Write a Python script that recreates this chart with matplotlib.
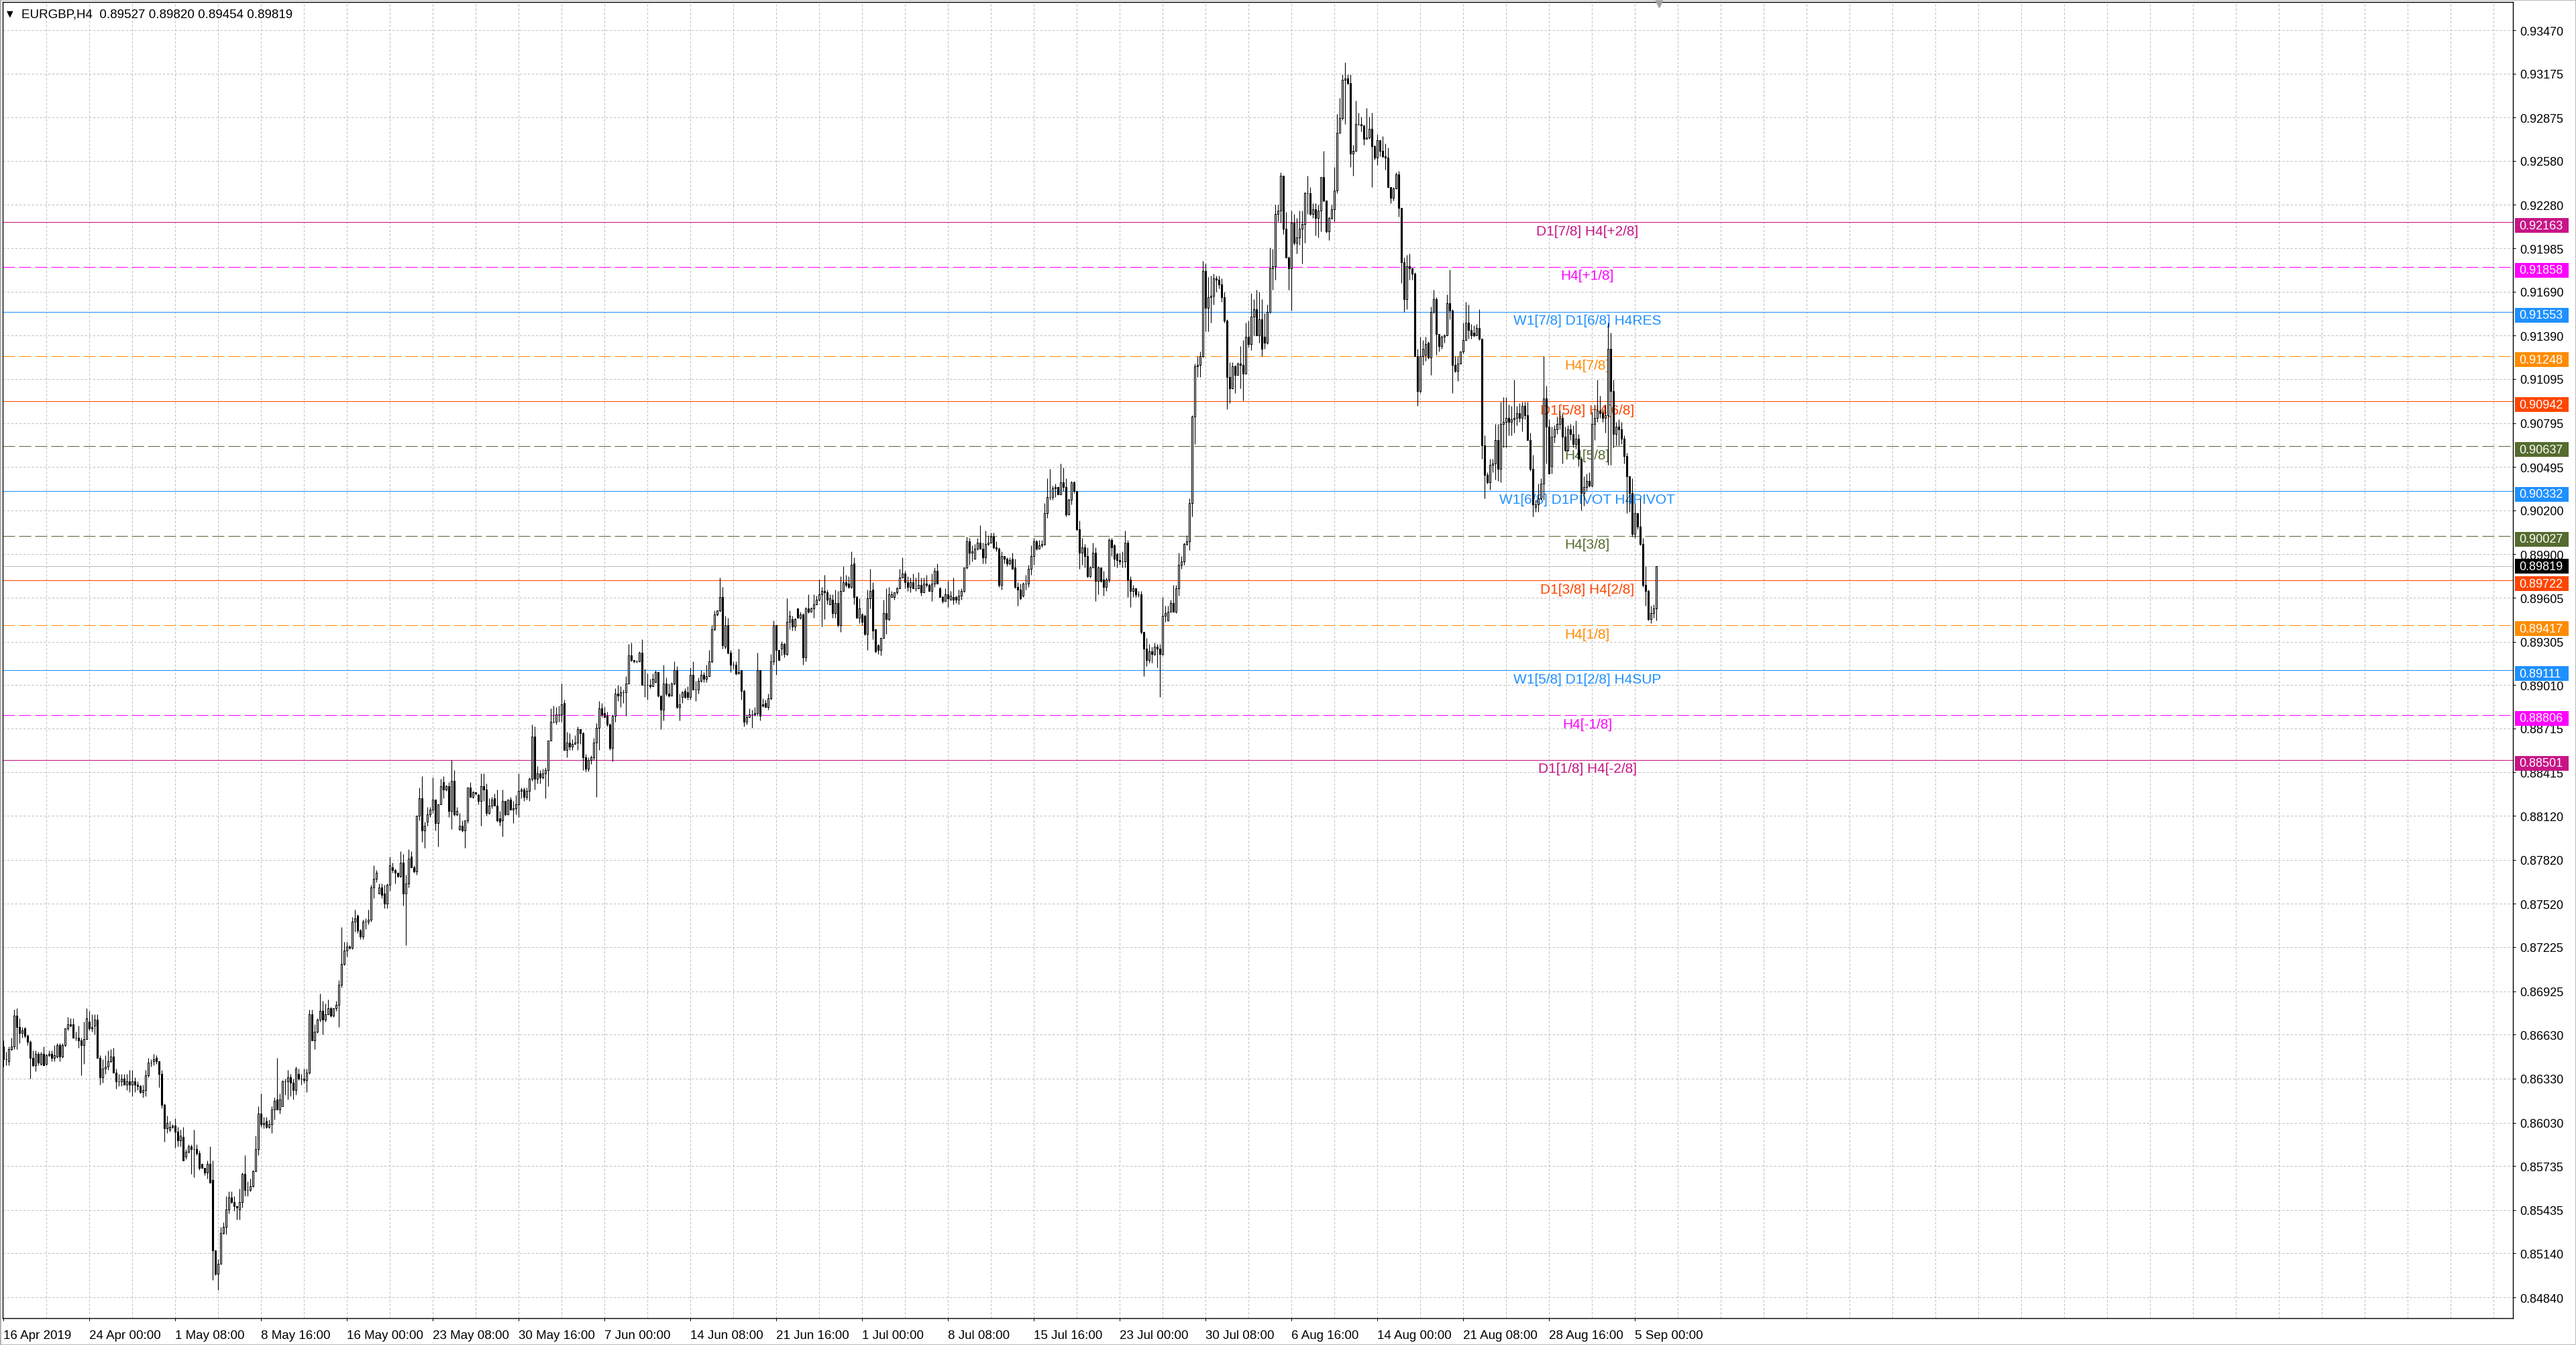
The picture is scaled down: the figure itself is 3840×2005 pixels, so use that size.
import numpy as np
import matplotlib
matplotlib.use("Agg")
import matplotlib.pyplot as plt
from matplotlib.collections import LineCollection, PolyCollection
from matplotlib.patches import Rectangle
from matplotlib.transforms import blended_transform_factory

plt.rcParams['font.family'] = ['Liberation Sans', 'DejaVu Sans']
plt.rcParams['lines.scale_dashes'] = False

# ---------------- data (EURGBP H4, prices in 1e-4 units) ----------------
opens = [
8655,8646,8645,8653,8655,8676,8668,8664,8667,8662, 8658,8647,8642,8650,8643,8650,8643,8649,8650,8647,
8648,8656,8648,8656,8667,8670,8670,8661,8661,8659, 8656,8660,8672,8667,8669,8673,8647,8634,8640,8641,
8645,8648,8637,8631,8631,8633,8629,8631,8629,8631, 8629,8628,8624,8625,8635,8644,8645,8647,8645,8636,
8615,8599,8598,8600,8601,8597,8591,8593,8580,8583, 8587,8585,8585,8582,8575,8572,8569,8575,8564,8516,
8500,8507,8528,8532,8544,8552,8549,8546,8544,8549, 8568,8557,8557,8560,8570,8585,8609,8602,8604,8600,
8602,8612,8619,8612,8614,8631,8631,8634,8630,8625, 8636,8633,8633,8632,8637,8677,8659,8665,8673,8679,
8673,8677,8681,8676,8681,8683,8697,8711,8720,8723, 8722,8740,8744,8734,8730,8740,8740,8741,8763,8769,
8759,8763,8759,8752,8765,8777,8775,8773,8771,8780, 8759,8766,8784,8777,8774,8812,8824,8802,8808,8813,
8816,8823,8807,8820,8835,8830,8832,8815,8836,8813, 8803,8805,8802,8809,8831,8825,8828,8826,8822,8832,
8830,8814,8819,8824,8819,8810,8809,8822,8813,8823, 8816,8817,8820,8829,8830,8825,8829,8837,8866,8837,
8841,8838,8841,8843,8863,8876,8876,8881,8881,8889, 8857,8862,8859,8861,8862,8871,8868,8852,8844,8850,
8852,8862,8872,8885,8882,8880,8874,8858,8880,8895, 8894,8896,8896,8902,8921,8918,8917,8917,8923,8901,
8901,8901,8900,8903,8910,8894,8884,8902,8895,8894, 8902,8911,8886,8893,8897,8896,8893,8908,8898,8898,
8904,8908,8905,8907,8917,8939,8949,8952,8961,8927, 8942,8923,8915,8915,8909,8911,8897,8876,8879,8881,
8881,8882,8911,8888,8889,8886,8892,8917,8942,8925, 8926,8929,8922,8944,8946,8941,8953,8947,8949,8920,
8953,8951,8953,8956,8959,8963,8965,8964,8956,8959, 8950,8957,8942,8965,8971,8970,8968,8984,8961,8947,
8949,8948,8936,8960,8966,8939,8928,8925,8933,8950, 8946,8961,8961,8964,8967,8974,8977,8971,8968,8971,
8967,8967,8969,8964,8970,8969,8965,8970,8979,8967, 8961,8958,8963,8959,8961,8961,8959,8962,8965,8981,
8999,8991,8987,8994,8998,8994,8988,8997,8998,9002, 8995,8994,8969,8989,8987,8984,8987,8981,8968,8966,
8962,8970,8970,8980,8989,8999,8994,8996,8997,9018, 9029,9029,9035,9036,9031,9039,9036,9017,9027,9039,
9033,9007,8991,8995,8989,8975,8981,8991,8972,8981, 8973,8968,8973,9000,8996,8990,8986,8985,8985,8998,
8973,8965,8967,8963,8963,8937,8926,8918,8924,8922, 8927,8926,8922,8948,8945,8951,8957,8951,8967,8983,
8985,8997,8999,9025,9084,9118,9119,9125,9183,9158, 9165,9166,9178,9177,9174,9165,9149,9111,9103,9118,
9112,9120,9119,9113,9138,9133,9152,9157,9139,9150, 9138,9134,9155,9185,9186,9222,9224,9248,9212,9192,
9185,9216,9202,9206,9212,9215,9236,9236,9222,9225, 9219,9224,9247,9231,9210,9219,9225,9238,9277,9287,
9313,9314,9311,9263,9265,9283,9283,9282,9273,9274, 9280,9268,9260,9272,9265,9261,9260,9240,9233,9239,
9249,9226,9189,9164,9186,9185,9181,9125,9101,9125, 9126,9134,9124,9155,9164,9140,9132,9138,9139,9161,
9156,9119,9115,9120,9128,9136,9148,9143,9141,9139, 9144,9137,9064,9044,9039,9051,9052,9068,9048,9079,
9080,9083,9080,9082,9083,9086,9083,9091,9085,9068, 9048,9022,9024,9028,9038,9096,9077,9050,9070,9075,
9079,9083,9070,9061,9075,9072,9065,9069,9055,9032, 9036,9040,9037,9079,9083,9088,9086,9083,9085,9130,
9101,9072,9077,9075,9069,9057,9043,9032,9004,9018, 9009,8997,8969,8965,8946,8950,8953,
]
highs = [
8659,8651,8655,8661,8680,8681,8674,8668,8668,8663, 8659,8652,8652,8651,8651,8655,8650,8652,8652,8656,
8657,8657,8657,8667,8675,8674,8674,8665,8669,8661, 8672,8681,8679,8677,8677,8677,8649,8646,8649,8652,
8653,8654,8640,8636,8636,8636,8636,8639,8639,8634, 8631,8629,8629,8639,8647,8646,8650,8649,8645,8639,
8616,8608,8604,8602,8606,8600,8598,8600,8585,8588, 8588,8598,8588,8584,8575,8572,8577,8587,8577,8516,
8510,8532,8535,8553,8556,8556,8553,8546,8558,8569, 8581,8563,8565,8571,8594,8614,8623,8607,8607,8605,
8614,8620,8647,8623,8632,8633,8639,8636,8633,8641, 8640,8636,8640,8640,8680,8680,8670,8674,8691,8686,
8684,8687,8682,8681,8686,8700,8736,8726,8726,8724, 8743,8748,8745,8735,8741,8742,8748,8765,8778,8775,
8766,8766,8765,8766,8784,8780,8776,8773,8788,8786, 8772,8789,8788,8778,8812,8831,8839,8808,8818,8818,
8838,8823,8820,8837,8839,8833,8835,8850,8843,8818, 8814,8809,8809,8831,8835,8829,8828,8827,8841,8841,
8834,8824,8825,8827,8830,8815,8830,8822,8823,8825, 8822,8826,8841,8831,8831,8831,8838,8874,8873,8846,
8843,8844,8845,8863,8885,8887,8886,8887,8902,8891, 8869,8868,8864,8867,8873,8871,8869,8854,8852,8853,
8865,8875,8890,8889,8886,8883,8875,8881,8899,8901, 8900,8898,8907,8929,8930,8918,8918,8924,8932,8912,
8909,8905,8909,8911,8910,8894,8915,8906,8902,8903, 8917,8914,8895,8897,8899,8900,8913,8917,8904,8906,
8911,8910,8915,8925,8942,8952,8952,8974,8968,8948, 8947,8925,8917,8917,8926,8911,8898,8881,8885,8884,
8886,8923,8911,8892,8891,8895,8922,8945,8942,8925, 8931,8930,8960,8952,8948,8947,8953,8951,8950,8954,
8963,8954,8963,8962,8973,8968,8976,8966,8963,8963, 8966,8965,8975,8982,8976,8975,8992,8988,8962,8960,
8950,8949,8966,8980,8971,8939,8929,8933,8959,8967, 8968,8965,8964,8968,8980,8988,8979,8975,8974,8977,
8974,8978,8974,8974,8976,8970,8977,8981,8984,8968, 8962,8967,8972,8965,8974,8962,8966,8967,8981,9002,
9001,8996,8997,9001,9010,8998,9006,9003,9005,9005, 8999,8995,8992,8989,8988,8988,8991,8987,8971,8970,
8971,8976,8983,8996,9001,9000,9000,9000,9025,9042, 9048,9037,9038,9036,9052,9049,9042,9028,9040,9040,
9033,9013,9001,8997,8995,8982,8998,8995,8982,8981, 8979,8974,9001,9001,8997,8991,8991,8992,9006,9000,
8975,8969,8967,8965,8965,8937,8933,8929,8927,8930, 8929,8929,8961,8955,8955,8959,8969,8969,8991,8989,
8998,9003,9028,9085,9120,9125,9128,9190,9188,9179, 9180,9181,9180,9180,9178,9169,9150,9121,9121,9119,
9121,9132,9136,9148,9149,9168,9164,9170,9169,9164, 9154,9160,9199,9198,9228,9228,9250,9248,9223,9193,
9224,9222,9219,9224,9224,9237,9248,9240,9229,9229, 9228,9247,9265,9231,9220,9228,9254,9290,9301,9317,
9325,9317,9317,9269,9299,9291,9288,9282,9294,9288, 9291,9269,9276,9272,9275,9270,9267,9240,9240,9250,
9251,9226,9192,9194,9195,9185,9182,9130,9138,9136, 9138,9135,9159,9170,9165,9140,9139,9140,9167,9184,
9157,9125,9125,9128,9148,9162,9160,9147,9146,9147, 9157,9137,9071,9046,9055,9055,9079,9079,9094,9097,
9097,9092,9091,9109,9091,9093,9094,9094,9094,9073, 9058,9027,9038,9042,9125,9105,9082,9077,9078,9084,
9088,9086,9077,9078,9079,9078,9081,9072,9056,9043, 9045,9046,9087,9092,9109,9098,9089,9092,9148,9141,
9109,9080,9082,9080,9071,9059,9043,9042,9025,9018, 9028,9001,8982,8966,8955,8956,8982,
]
lows = [
8641,8642,8642,8652,8653,8653,8657,8661,8661,8656, 8633,8641,8638,8642,8642,8642,8642,8648,8645,8645,
8647,8645,8647,8655,8666,8668,8661,8659,8654,8635, 8643,8660,8666,8665,8663,8647,8629,8630,8636,8639,
8644,8637,8626,8628,8628,8629,8625,8624,8621,8624, 8625,8623,8620,8621,8634,8641,8642,8643,8627,8613,
8590,8596,8597,8599,8586,8587,8587,8577,8578,8582, 8568,8566,8581,8571,8572,8567,8565,8562,8496,8499,
8489,8507,8527,8527,8541,8548,8543,8537,8537,8545, 8553,8553,8556,8559,8570,8581,8600,8599,8599,8599,
8596,8605,8612,8609,8614,8622,8619,8621,8619,8622, 8632,8629,8630,8624,8636,8659,8653,8664,8672,8663,
8672,8677,8675,8675,8679,8668,8695,8710,8716,8721, 8721,8733,8732,8728,8728,8735,8738,8740,8756,8767,
8759,8756,8749,8749,8761,8773,8766,8770,8770,8751, 8724,8763,8777,8773,8772,8809,8794,8790,8805,8811,
8814,8802,8791,8820,8824,8829,8811,8803,8812,8812, 8802,8801,8790,8807,8825,8824,8826,8820,8805,8822,
8812,8813,8817,8819,8808,8805,8798,8812,8813,8816, 8807,8813,8811,8824,8822,8823,8822,8836,8830,8834,
8834,8837,8824,8832,8863,8875,8874,8876,8876,8857, 8852,8857,8857,8861,8857,8861,8843,8842,8842,8847,
8850,8825,8857,8879,8879,8873,8857,8849,8876,8890, 8886,8889,8880,8902,8917,8916,8916,8917,8901,8893,
8891,8899,8900,8903,8893,8871,8877,8894,8893,8894, 8901,8885,8877,8889,8892,8891,8891,8898,8890,8895,
8903,8903,8903,8907,8916,8938,8948,8951,8926,8926, 8922,8910,8912,8908,8909,8891,8873,8874,8879,8872,
8880,8880,8877,8886,8886,8884,8891,8915,8908,8918, 8921,8920,8921,8939,8938,8938,8947,8946,8915,8917,
8950,8951,8947,8956,8958,8941,8946,8956,8956,8947, 8947,8941,8937,8965,8968,8967,8967,8956,8947,8943,
8942,8935,8925,8953,8932,8923,8922,8921,8933,8936, 8945,8961,8959,8963,8967,8974,8967,8965,8964,8967,
8965,8967,8962,8964,8968,8965,8958,8968,8970,8961, 8957,8958,8954,8959,8956,8957,8956,8959,8964,8980,
8983,8985,8987,8993,8994,8984,8984,8996,8998,8994, 8992,8968,8966,8984,8982,8983,8980,8967,8955,8959,
8961,8966,8968,8976,8983,8993,8994,8995,8996,9015, 9027,9027,9029,9031,9031,9033,9016,9017,9024,9032,
9006,8980,8983,8981,8974,8974,8981,8958,8963,8971, 8962,8965,8971,8989,8982,8981,8983,8981,8981,8961,
8954,8961,8961,8961,8936,8907,8914,8916,8916,8921, 8913,8893,8921,8944,8945,8951,8951,8950,8962,8980,
8983,8996,8993,9016,9065,9111,9111,9124,9142,9142, 9148,9160,9169,9171,9162,9148,9089,9093,9103,9100,
9112,9103,9095,9113,9131,9129,9139,9139,9134,9125, 9130,9133,9154,9170,9177,9217,9216,9208,9192,9170,
9156,9201,9195,9201,9188,9202,9222,9221,9219,9207, 9206,9210,9230,9209,9204,9218,9217,9236,9277,9286,
9283,9310,9254,9248,9265,9282,9278,9269,9273,9273, 9240,9259,9255,9261,9260,9252,9240,9229,9231,9239,
9220,9175,9155,9157,9177,9177,9125,9091,9100,9119, 9122,9123,9112,9154,9126,9128,9130,9134,9139,9150,
9100,9114,9108,9120,9127,9136,9137,9137,9138,9139, 9136,9055,9028,9038,9034,9046,9041,9040,9039,9063,
9063,9071,9071,9073,9078,9080,9074,9082,9068,9047, 9016,9019,9019,9027,9027,9052,9045,9045,9066,9072,
9075,9052,9060,9060,9068,9063,9062,9050,9020,9023, 9033,9036,9036,9068,9080,9083,9080,9073,9051,9051,
9063,9064,9064,9065,9052,9018,9019,9002,9001,9007, 8996,8968,8955,8945,8943,8947,8945,
]
closes = [
8646,8646,8653,8655,8676,8668,8664,8666,8662,8658, 8647,8642,8650,8644,8650,8642,8649,8650,8647,8649,
8656,8648,8656,8667,8670,8669,8661,8661,8659,8656, 8660,8674,8667,8668,8673,8647,8634,8640,8641,8645,
8648,8637,8631,8631,8633,8629,8631,8629,8631,8629, 8628,8624,8625,8635,8644,8644,8646,8645,8636,8615,
8599,8603,8600,8601,8597,8591,8594,8577,8583,8587, 8585,8585,8582,8572,8572,8569,8575,8562,8516,8500,
8507,8528,8532,8544,8552,8549,8546,8545,8549,8568, 8557,8557,8560,8570,8585,8609,8602,8603,8600,8602,
8612,8618,8612,8619,8631,8631,8634,8630,8625,8640, 8633,8633,8632,8637,8677,8659,8665,8673,8679,8673,
8677,8681,8676,8681,8683,8697,8711,8720,8723,8722, 8740,8742,8734,8730,8740,8740,8741,8763,8769,8773,
8763,8758,8752,8765,8778,8775,8773,8771,8780,8759, 8766,8783,8777,8774,8812,8824,8802,8805,8813,8816,
8823,8807,8820,8832,8830,8832,8815,8836,8813,8815, 8805,8802,8809,8831,8825,8828,8827,8822,8832,8830,
8814,8819,8823,8819,8809,8808,8822,8813,8823,8816, 8817,8820,8829,8830,8825,8829,8837,8866,8837,8841,
8838,8841,8843,8863,8876,8876,8881,8881,8888,8857, 8862,8859,8861,8862,8871,8868,8852,8844,8850,8852,
8862,8872,8885,8881,8879,8874,8858,8880,8895,8894, 8896,8896,8902,8921,8918,8917,8917,8923,8901,8901,
8901,8900,8905,8910,8894,8884,8902,8895,8894,8902, 8911,8886,8888,8896,8893,8893,8908,8898,8898,8904,
8908,8905,8907,8917,8939,8949,8952,8961,8928,8942, 8923,8915,8915,8909,8910,8897,8876,8879,8881,8881,
8882,8911,8880,8887,8886,8892,8917,8942,8925,8918, 8929,8922,8944,8948,8941,8946,8947,8949,8920,8953,
8951,8953,8956,8959,8963,8965,8964,8959,8960,8950, 8957,8942,8965,8971,8969,8968,8983,8961,8947,8953,
8944,8936,8960,8965,8938,8924,8925,8933,8950,8946, 8963,8963,8964,8967,8974,8977,8971,8968,8971,8967,
8967,8969,8964,8970,8969,8965,8970,8979,8970,8961, 8958,8963,8960,8962,8959,8959,8962,8965,8981,8999,
8991,8992,8994,8998,8994,8988,8997,8998,9002,8995, 8994,8969,8989,8987,8984,8986,8980,8968,8966,8960,
8970,8970,8980,8989,8999,8994,8996,8997,9018,9029, 9029,9035,9036,9031,9039,9036,9017,9027,9039,9033,
9007,8991,8995,8989,8975,8981,8991,8972,8981,8972, 8968,8973,9000,8995,8987,8986,8985,8985,8998,8973,
8965,8967,8963,8963,8937,8926,8918,8924,8922,8927, 8926,8922,8948,8950,8951,8957,8951,8967,8983,8985,
8997,8999,9025,9084,9118,9119,9125,9183,9158,9165, 9166,9178,9177,9174,9165,9149,9111,9103,9118,9112,
9120,9119,9113,9138,9133,9152,9157,9139,9150,9130, 9134,9155,9185,9186,9222,9224,9248,9212,9192,9185,
9216,9202,9206,9212,9215,9236,9236,9222,9225,9219, 9224,9247,9231,9210,9219,9225,9238,9277,9287,9313,
9314,9311,9263,9265,9283,9283,9282,9273,9274,9280, 9268,9260,9272,9265,9261,9260,9240,9233,9239,9249,
9226,9189,9164,9186,9185,9181,9125,9101,9125,9130, 9133,9124,9155,9164,9140,9132,9138,9139,9161,9156,
9119,9115,9120,9128,9136,9148,9143,9139,9139,9144, 9137,9064,9044,9039,9051,9052,9068,9048,9079,9080,
9083,9080,9082,9083,9086,9083,9091,9085,9068,9048, 9024,9024,9028,9038,9096,9077,9045,9070,9075,9079,
9083,9070,9061,9075,9072,9065,9069,9055,9032,9036, 9040,9037,9079,9083,9088,9086,9083,9085,9130,9101,
9072,9077,9075,9069,9057,9043,9032,9004,9018,9009, 8997,8969,8965,8946,8950,8953,8982,
]

date_labels = ["16 Apr 2019", "24 Apr 00:00", "1 May 08:00", "8 May 16:00", "16 May 00:00",
               "23 May 08:00", "30 May 16:00", "7 Jun 00:00", "14 Jun 08:00", "21 Jun 16:00",
               "1 Jul 00:00", "8 Jul 08:00", "15 Jul 16:00", "23 Jul 00:00", "30 Jul 08:00",
               "6 Aug 16:00", "14 Aug 00:00", "21 Aug 08:00", "28 Aug 16:00", "5 Sep 00:00"]
date_label_bars = [0, 32, 64, 96, 128, 160, 192, 224, 256, 288, 320, 352, 384, 416, 448,
                   480, 512, 544, 576, 608]

price_ticks = [0.93470, 0.93175, 0.92875, 0.92580, 0.92280, 0.91985, 0.91690, 0.91390,
               0.91095, 0.90795, 0.90495, 0.90200, 0.89900, 0.89605, 0.89305, 0.89010,
               0.88715, 0.88415, 0.88120, 0.87820, 0.87520, 0.87225, 0.86925, 0.86630,
               0.86330, 0.86030, 0.85735, 0.85435, 0.85140, 0.84840]

levels = [0.92163, 0.91858, 0.91553, 0.91248, 0.90942, 0.90637, 0.90332,
          0.90027, 0.89722, 0.89417, 0.89111, 0.88806, 0.88501]
level_names = ["D1[7/8] H4[+2/8]", "H4[+1/8]", "W1[7/8] D1[6/8] H4RES", "H4[7/8]",
               "D1[5/8] H4[6/8]", "H4[5/8]", "W1[6/8] D1PIVOT H4PIVOT", "H4[3/8]",
               "D1[3/8] H4[2/8]", "H4[1/8]", "W1[5/8] D1[2/8] H4SUP", "H4[-1/8]",
               "D1[1/8] H4[-2/8]"]
level_colors = ["#C71585", "#FF00FF", "#1E90FF", "#FF8C00", "#FF4500", "#556B2F", "#1E90FF",
                "#556B2F", "#FF4500", "#FF8C00", "#1E90FF", "#FF00FF", "#C71585"]
level_dashed = [False, True, False, True, False, True, False,
                True, False, True, False, True, False]

current_price = 0.89819
title_text = "EURGBP,H4  0.89527 0.89820 0.89454 0.89819"

# ---------------- figure ----------------
W, H = 3840, 2006
fig = plt.figure(figsize=(W / 100, H / 100), dpi=100)
fig.patch.set_facecolor("white")
ax_l, ax_r, ax_t, ax_b = 4, 3746, 4, 1966
ax = fig.add_axes([ax_l / W, 1 - ax_b / H, (ax_r - ax_l) / W, (ax_b - ax_t) / H])
ax.set_facecolor("white")
y_lo, y_hi = 0.846984, 0.936620
x_lo, x_hi = -0.33, 935.2
px_y = (y_hi - y_lo) / (ax_b - ax_t)

# grid
grid_kw = dict(color="#C0C0C0", lw=0.75, ls=(0, (2.4, 2.0)), zorder=0.5)
for t in price_ticks:
    ax.axhline(t, **grid_kw)
for b in range(16, 936, 16):
    ax.axvline(b, **grid_kw)

# murrey levels
for lv, col, dsh, name in zip(levels, level_colors, level_dashed, level_names):
    ls = (0, (12.96, 4.32)) if dsh else "-"
    ax.axhline(lv, color=col, lw=0.75, ls=ls, zorder=1)
    ax.annotate(name, xy=(590.2, lv), xytext=(0, -2.6), textcoords="offset points",
                ha="center", va="top", color=col, fontsize=15, zorder=1.5)
ax.axhline(current_price, color="#C0C0C0", lw=0.75, zorder=1)

# candles
o = np.array(opens) / 1e4
h = np.array(highs) / 1e4
l = np.array(lows) / 1e4
c = np.array(closes) / 1e4
idx = np.arange(len(o))
hi = np.maximum(h, np.maximum(o, c))
lo = np.minimum(l, np.minimum(o, c))
wicks = [((i, lo[i]), (i, hi[i])) for i in idx]
ax.add_collection(LineCollection(wicks, colors="black", linewidths=0.8, zorder=3))
bw = 0.5
verts, fcs = [], []
for i in idx:
    b0, b1 = min(o[i], c[i]), max(o[i], c[i])
    verts.append([(i - bw / 2, b0), (i + bw / 2, b0), (i + bw / 2, b1), (i - bw / 2, b1)])
    fcs.append("white" if c[i] >= o[i] else "black")
ax.add_collection(PolyCollection(verts, facecolors=fcs, edgecolors="black",
                                 linewidths=0.8, zorder=4))

# axes styling
ax.set_xlim(x_lo, x_hi)
ax.set_ylim(y_lo, y_hi)
for sp in ax.spines.values():
    sp.set_color("black")
    sp.set_linewidth(1.0)
ax.yaxis.tick_right()
ax.set_yticks(price_ticks)
ax.set_yticklabels(["%.5f" % v for v in price_ticks])
ax.tick_params(axis="y", direction="out", length=3, width=0.75, pad=4.5,
               labelsize=13, colors="black")
ax.set_xticks(date_label_bars)
ax.set_xticklabels(date_labels)
ax.tick_params(axis="x", direction="out", length=3, width=0.75, pad=9.5,
               labelsize=13.5, colors="black")
for lab in ax.get_xticklabels():
    lab.set_ha("left")

# price labels on the scale (murrey boxes sit slightly below their line)
trans = blended_transform_factory(fig.transFigure, ax.transData)
box_specs = [(lv, col, 5.0) for lv, col in zip(levels, level_colors)] + \
            [(current_price, "black", 0.0)]
for lv, col, shift in box_specs:
    yc = lv - shift * px_y
    ax.add_patch(Rectangle((3749 / W, yc - 11 * px_y), 80 / W, 22 * px_y,
                           transform=trans, facecolor=col, edgecolor="none",
                           clip_on=False, zorder=10))
    ax.text(3755 / W, yc, "%.5f" % lv, transform=trans, color="white", fontsize=13,
            ha="left", va="center", clip_on=False, zorder=11)

# chart shift marker
ax.plot([617], [y_hi - 3 * px_y], marker="v", ms=7, color="#A0A0A0",
        clip_on=False, zorder=12)

# title
fig.text(10 / W, 1 - 21 / H, "\u25BC", fontsize=9, family=["DejaVu Sans"],
         va="center", ha="left", color="black")
fig.text(32 / W, 1 - 22 / H, title_text, fontsize=13.5, va="center", ha="left",
         color="black")

fig.add_artist(Rectangle((0, 0), 1, 1, transform=fig.transFigure, fill=False,
                         edgecolor="#B0B0B0", lw=2))

fig.savefig("out.png", dpi=100, facecolor="white")
